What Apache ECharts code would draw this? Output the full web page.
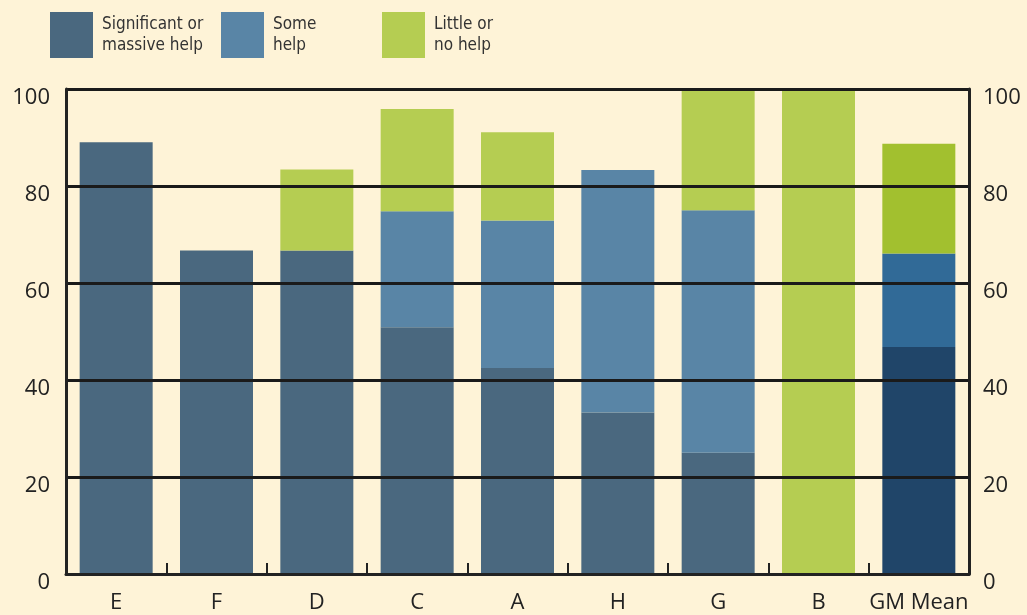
<!DOCTYPE html>
<html>
<head>
<meta charset="utf-8">
<script src="https://cdn.jsdelivr.net/npm/echarts@6/dist/echarts.min.js"></script>
<style>
  html, body { margin: 0; padding: 0; background: #fef3d7; }
  #chart { width: 1027px; height: 615px; }
</style>
</head>
<body>
<div id="chart"></div>
<script>
// categories and stacked shares (%)
const categories = ['E', 'F', 'D', 'C', 'A', 'H', 'G', 'B', 'GM Mean'];
const significantHelp = [89, 66.7, 66.7, 50.9, 42.5, 33.3, 25, 0, 46.8];
const someHelp = [0, 0, 0, 23.9, 30.4, 50, 50, 0, 19.3];
const littleHelp = [0, 0, 16.7, 21.1, 18.2, 0, 25, 100, 22.6];
const seriesNames = ['Significant or massive help', 'Some help', 'Little or no help'];
const yTicks = [0, 20, 40, 60, 80, 100];

const colors = ['#4a687f', '#5985a6', '#b5cd52'];
const meanColors = ['#204569', '#316a97', '#a2c02f'];
const fontFam = '"Open Sans", "Noto Sans", sans-serif';
const narrowFam = '"Liberation Sans Narrow", "DejaVu Sans Condensed", "Open Sans", sans-serif';

const chart = echarts.init(document.getElementById('chart'));

// last bar (the mean) gets its own darker shades
function toData(values, idx) {
    return values.map(function (v, i) {
        if (i === categories.length - 1) {
            return { value: v, itemStyle: { color: meanColors[idx] } };
        }
        return v;
    });
}

function legendFor(idx, left) {
    return {
        left: left,
        top: 12,
        padding: 0,
        itemWidth: 43,
        itemHeight: 46,
        icon: 'rect',
        selectedMode: false,
        data: [seriesNames[idx]],
        formatter: function (name) {
            return name === seriesNames[0] ? 'Significant or\nmassive help'
                 : name === seriesNames[1] ? 'Some\nhelp' : 'Little or\nno help';
        },
        textStyle: { fontSize: 17, lineHeight: 21, color: '#333', fontFamily: narrowFam, padding: [0, 0, 0, 4] }
    };
}

const axisLabelStyle = {
    fontSize: 22,
    color: '#222',
    fontFamily: fontFam
};

function valueAxis(pos, margin, grid) {
    return {
        type: 'value',
        position: pos,
        min: yTicks[0],
        max: yTicks[yTicks.length - 1],
        interval: 20,
        z: 10,
        axisLine: { show: true, lineStyle: { color: '#222', width: 3 } },
        axisTick: { show: false },
        splitLine: { show: grid, lineStyle: { color: '#1a1a1a', width: 3 } },
        axisLabel: Object.assign({ margin: margin, verticalAlign: 'top', lineHeight: 18 }, axisLabelStyle)
    };
}

const option = {
    backgroundColor: '#fef3d7',
    animation: false,
    color: colors,
    legend: [legendFor(0, 50), legendFor(1, 221), legendFor(2, 382)],
    grid: { left: 66, right: 58, top: 89, bottom: 41 },
    xAxis: {
        type: 'category',
        data: categories,
        z: 10,
        axisLine: { lineStyle: { color: '#222', width: 3 } },
        axisTick: { show: true, interval: 0, inside: true, length: 11, lineStyle: { color: '#222', width: 2 } },
        axisLabel: Object.assign({ margin: 18, interval: 0 }, axisLabelStyle)
    },
    yAxis: [valueAxis('left', 16, true), valueAxis('right', 14, false)],
    series: [significantHelp, someHelp, littleHelp].map(function (vals, idx) {
        return {
            name: seriesNames[idx],
            type: 'bar',
            stack: 'help',
            barWidth: 73,
            data: toData(vals, idx)
        };
    })
};

chart.setOption(option);
</script>
</body>
</html>
